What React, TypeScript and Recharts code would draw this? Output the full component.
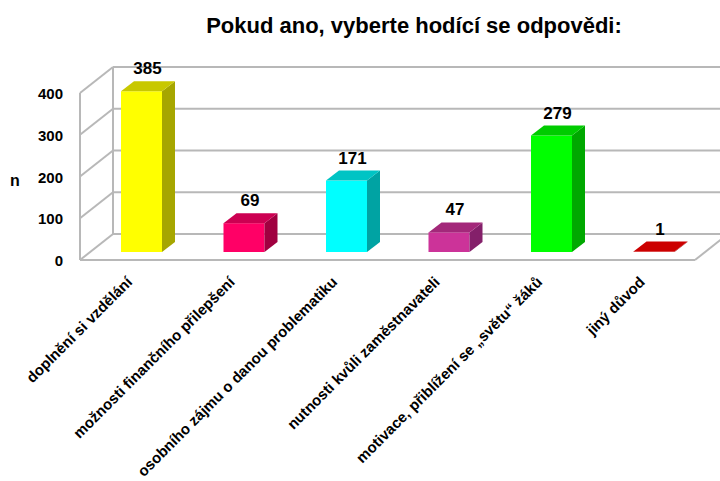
import { BarChart, Bar, XAxis, YAxis, CartesianGrid, LabelList } from "recharts"

const categories = [
  "doplnění si vzdělání",
  "možnosti finančního přilepšení",
  "osobního zájmu o danou problematiku",
  "nutnosti kvůli zaměstnavateli",
  "motivace, přiblížení se „světu“ žáků",
  "jiný důvod",
]
const counts = [385, 69, 171, 47, 279, 1]
const yTicks = [0, 100, 200, 300, 400]

const front = ["#ffff00", "#ff0066", "#00ffff", "#cc3399", "#00ff00", "#cc0000"]
const top = ["#c8c800", "#cc0052", "#00c4c4", "#a3287a", "#00cc00", "#cc0000"]
const side = ["#a6a600", "#a00040", "#00a3a3", "#84206a", "#00a800", "#990000"]

const data = categories.map((name, i) => ({ name, value: counts[i] }))

const W = 720
const H = 481
const X_AXIS_H = 221
const Y_AXIS_W = 80
const M = { top: 93, right: 25, bottom: 0, left: 0 }
const FLOOR_X = 33
const FLOOR_Y = -26
const BAR_OFF_X = 10
const BAR_OFF_Y = -8
const BAR_D_X = 13
const BAR_D_Y = -10
const GRID = "#b8b8b8"
const FONT = "'Liberation Sans', Arial, sans-serif"

function GridLine(props: any) {
  const { x1, x2, y1 } = props
  const bottom = H - M.bottom - X_AXIS_H
  const isFloor = Math.abs(y1 - bottom) < 1
  const isTop = Math.abs(y1 - M.top) < 1
  return (
    <g key={props.key}>
      <line x1={x1 + FLOOR_X} y1={y1 + FLOOR_Y} x2={x2 + FLOOR_X} y2={y1 + FLOOR_Y} stroke={GRID} strokeWidth={2} />
      <line x1={x1} y1={y1} x2={x1 + FLOOR_X} y2={y1 + FLOOR_Y} stroke={GRID} strokeWidth={2} />
      {isFloor && (
        <>
          <line x1={x1} y1={y1} x2={x2} y2={y1} stroke={GRID} strokeWidth={2} />
          <line x1={x2} y1={y1} x2={x2 + FLOOR_X} y2={y1 + FLOOR_Y} stroke={GRID} strokeWidth={2} />
        </>
      )}
      {isTop && (
        <>
          <line x1={x1} y1={y1} x2={x1} y2={bottom} stroke={GRID} strokeWidth={2} />
          <line x1={x1 + FLOOR_X} y1={y1 + FLOOR_Y} x2={x1 + FLOOR_X} y2={bottom + FLOOR_Y} stroke={GRID} strokeWidth={2} />
        </>
      )}
    </g>
  )
}

function Bar3D(props: any) {
  const { x, y, width, height, index } = props
  const fx = x + BAR_OFF_X
  const fy = y + BAR_OFF_Y
  const w = width
  const h = Math.max(height, 0)
  const topPts = `${fx},${fy} ${fx + BAR_D_X},${fy + BAR_D_Y} ${fx + w + BAR_D_X},${fy + BAR_D_Y} ${fx + w},${fy}`
  const sidePts = `${fx + w},${fy} ${fx + w + BAR_D_X},${fy + BAR_D_Y} ${fx + w + BAR_D_X},${fy + h + BAR_D_Y} ${fx + w},${fy + h}`
  return (
    <g>
      <rect x={fx} y={fy} width={w} height={h} fill={front[index]} />
      <polygon points={sidePts} fill={side[index]} />
      <polygon points={topPts} fill={top[index]} />
    </g>
  )
}

function ValueLabel(props: any) {
  const { x, y, width, value } = props
  return (
    <text x={x + width / 2 + 16} y={y - 25} textAnchor="middle" fontFamily={FONT} fontWeight="bold" fontSize={17} fill="#000">
      {value}
    </text>
  )
}

function CategoryTick(props: any) {
  const { x, y, payload } = props
  const tx = x + 2
  const ty = y + 23
  return (
    <text x={tx} y={ty} transform={`rotate(-45, ${tx}, ${ty})`} textAnchor="end" fontFamily={FONT} fontWeight="bold" fontSize={15} fill="#000">
      {payload.value}
    </text>
  )
}

function ValueTick(props: any) {
  const { x, y, payload } = props
  return (
    <text x={x} y={y + 6} textAnchor="end" fontFamily={FONT} fontWeight="bold" fontSize={15} fill="#000">
      {payload.value}
    </text>
  )
}

export default function App() {
  return (
    <div style={{ position: "absolute", left: 0, top: 0, width: W, height: H, background: "#fff" }}>
      <BarChart width={W} height={H} data={data} margin={M} barSize={41}>
        <text x={414} y={33} textAnchor="middle" fontFamily={FONT} fontWeight="bold" fontSize={22} fill="#000">
          Pokud ano, vyberte hodící se odpovědi:
        </text>
        <text x={15} y={186} textAnchor="middle" fontFamily={FONT} fontWeight="bold" fontSize={16} fill="#000">
          n
        </text>
        <CartesianGrid vertical={false} horizontal={(p: any) => <GridLine {...p} />} />
        <XAxis dataKey="name" axisLine={false} tickLine={false} tickSize={0} tickMargin={0} interval={0} height={X_AXIS_H} tick={<CategoryTick />} />
        <YAxis domain={[0, 400]} ticks={yTicks} width={Y_AXIS_W} axisLine={false} tickLine={false} tickSize={0} tickMargin={17} tick={<ValueTick />} />
        <Bar dataKey="value" isAnimationActive={false} shape={(p: any) => <Bar3D {...p} />}>
          <LabelList dataKey="value" content={(p: any) => <ValueLabel {...p} />} />
        </Bar>
      </BarChart>
    </div>
  )
}
